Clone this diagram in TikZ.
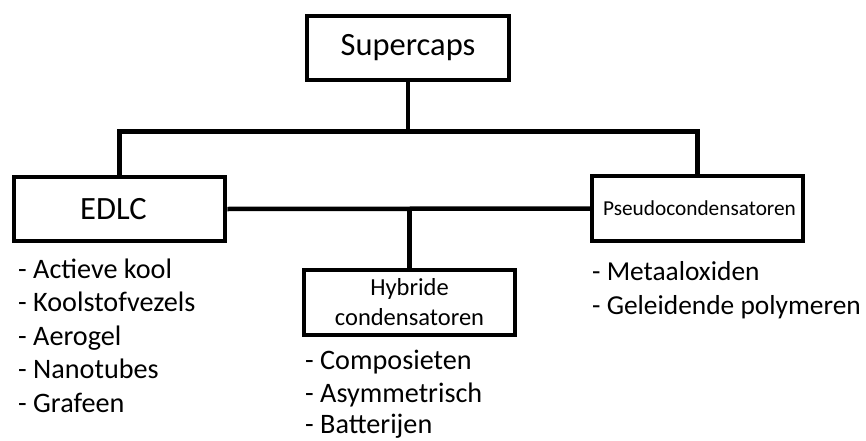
\documentclass[tikz,border=0pt]{standalone}
\usepackage{fontspec}
\setmainfont{Carlito}
\begin{document}
\begin{tikzpicture}[x=1pt,y=-1pt,
  box/.style={draw=black,line width=4.5pt,minimum width=211pt,minimum height=65pt,inner sep=0pt,align=center},
  conn/.style={draw=black,line width=4.5pt},
  item/.style={anchor=base west,inner sep=0pt,font=\fontsize{28.2}{33}\selectfont}]
\useasboundingbox[fill=white] (0,0) rectangle (866,441);
% boxes
\node[box,minimum width=202pt,minimum height=64pt,font=\fontsize{32.5}{38}\selectfont] (super) at (408,48) {Supercaps};
\node[box,minimum height=64pt,font=\fontsize{32.5}{38}\selectfont] (edlc) at (119.5,209) {\hspace*{-12pt}EDLC};
\node[box,font=\fontsize{21.3}{25}\selectfont] (pseudo) at (697.5,208.5) {\hspace*{4pt}Pseudocondensatoren};
\node[box,font=\fontsize{24.5}{30}\selectfont] (hybr) at (409.5,302.5) {Hybride\\condensatoren};
% connectors
\draw[conn] (super.south) -- ++(0,49) coordinate (j);
\draw[conn] (edlc.north) |- (j) -| (pseudo.north);
\draw[conn] (edlc.east) -- (pseudo.west);
\draw[conn] (hybr.north) -- (hybr.north |- edlc.east);
% lists
\node[item] (e1) at (18,278) {- Actieve kool};
\node[item] (e2) at (18,311.5) {- Koolstofvezels};
\node[item] (e3) at (18,345) {- Aerogel};
\node[item] (e4) at (18,378.5) {- Nanotubes};
\node[item] (e5) at (18,412) {- Grafeen};
\node[item] (h1) at (305,369.5) {- Composieten};
\node[item] (h2) at (305,402) {- Asymmetrisch};
\node[item] (h3) at (305,433.5) {- Batterijen};
\node[item,font=\fontsize{27.4}{33}\selectfont] (p1) at (592,280.5) {- Metaaloxiden};
\node[item,font=\fontsize{27.4}{33}\selectfont] (p2) at (592,314) {- Geleidende polymeren};
\end{tikzpicture}
\end{document}
